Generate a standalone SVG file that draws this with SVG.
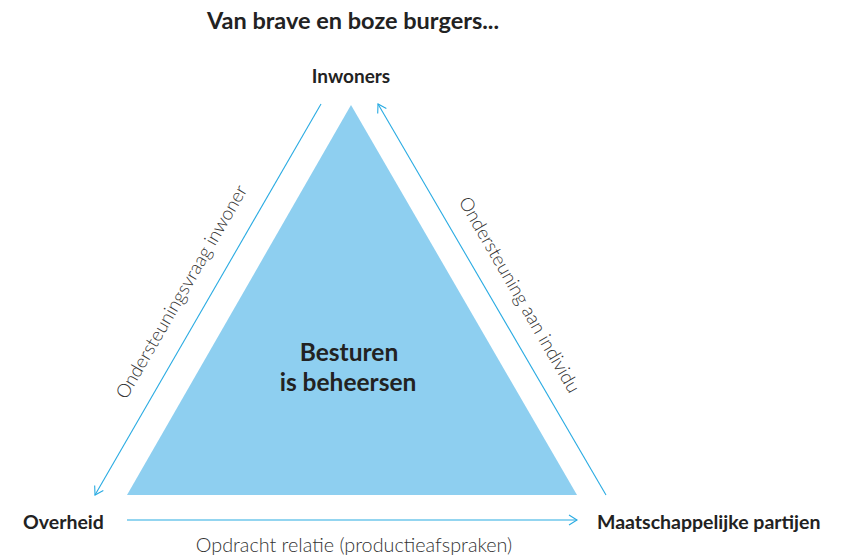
<svg xmlns="http://www.w3.org/2000/svg" width="848" height="559" viewBox="0 0 848 559">
<defs>
<marker id="arr" markerWidth="12" markerHeight="12" refX="10" refY="6" orient="auto" markerUnits="userSpaceOnUse">
<path d="M2,1 L10,6 L2,11" fill="none" stroke="#29abe2" stroke-width="1.1"/>
</marker>
<style>
.b{font-family:Lato,"Liberation Sans",sans-serif;font-weight:bold;fill:#222;}
.l{font-family:Lato,"Liberation Sans",sans-serif;font-weight:300;fill:#333;font-size:18.8px;}
.c{stroke:#29abe2;stroke-width:1.1;fill:none;marker-end:url(#arr);}
</style>
</defs>
<rect width="848" height="559" fill="#fff"/>
<text class="b" x="353" y="29" font-size="23.5" text-anchor="middle">Van brave en boze burgers...</text>
<g id="triangle">
<polygon points="351,105 127,495 577,495" fill="#8ecff0"/>
<text class="b" x="349" y="361" font-size="24.5" text-anchor="middle">Besturen</text>
<text class="b" x="348" y="391" font-size="24.5" text-anchor="middle">is beheersen</text>
</g>
<g id="inwoners"><text class="b" x="351" y="83" font-size="19" text-anchor="middle">Inwoners</text></g>
<g id="overheid"><text class="b" x="23" y="529" font-size="19.5">Overheid</text></g>
<g id="partijen"><text class="b" x="597" y="529" font-size="19.5">Maatschappelijke partijen</text></g>
<g id="connectors">
<line class="c" x1="321" y1="104" x2="95" y2="495"/>
<line class="c" x1="606" y1="495" x2="378" y2="104"/>
<line class="c" x1="127" y1="520" x2="577" y2="520"/>
<text class="l" transform="translate(187,295) rotate(-60)" text-anchor="middle">Ondersteuningsvraag inwoner</text>
<text class="l" transform="translate(514,298) rotate(60)" text-anchor="middle">Ondersteuning aan individu</text>
<text class="l" x="354" y="552" style="font-size:19.8px" text-anchor="middle">Opdracht relatie (productieafspraken)</text>
</g>
</svg>
